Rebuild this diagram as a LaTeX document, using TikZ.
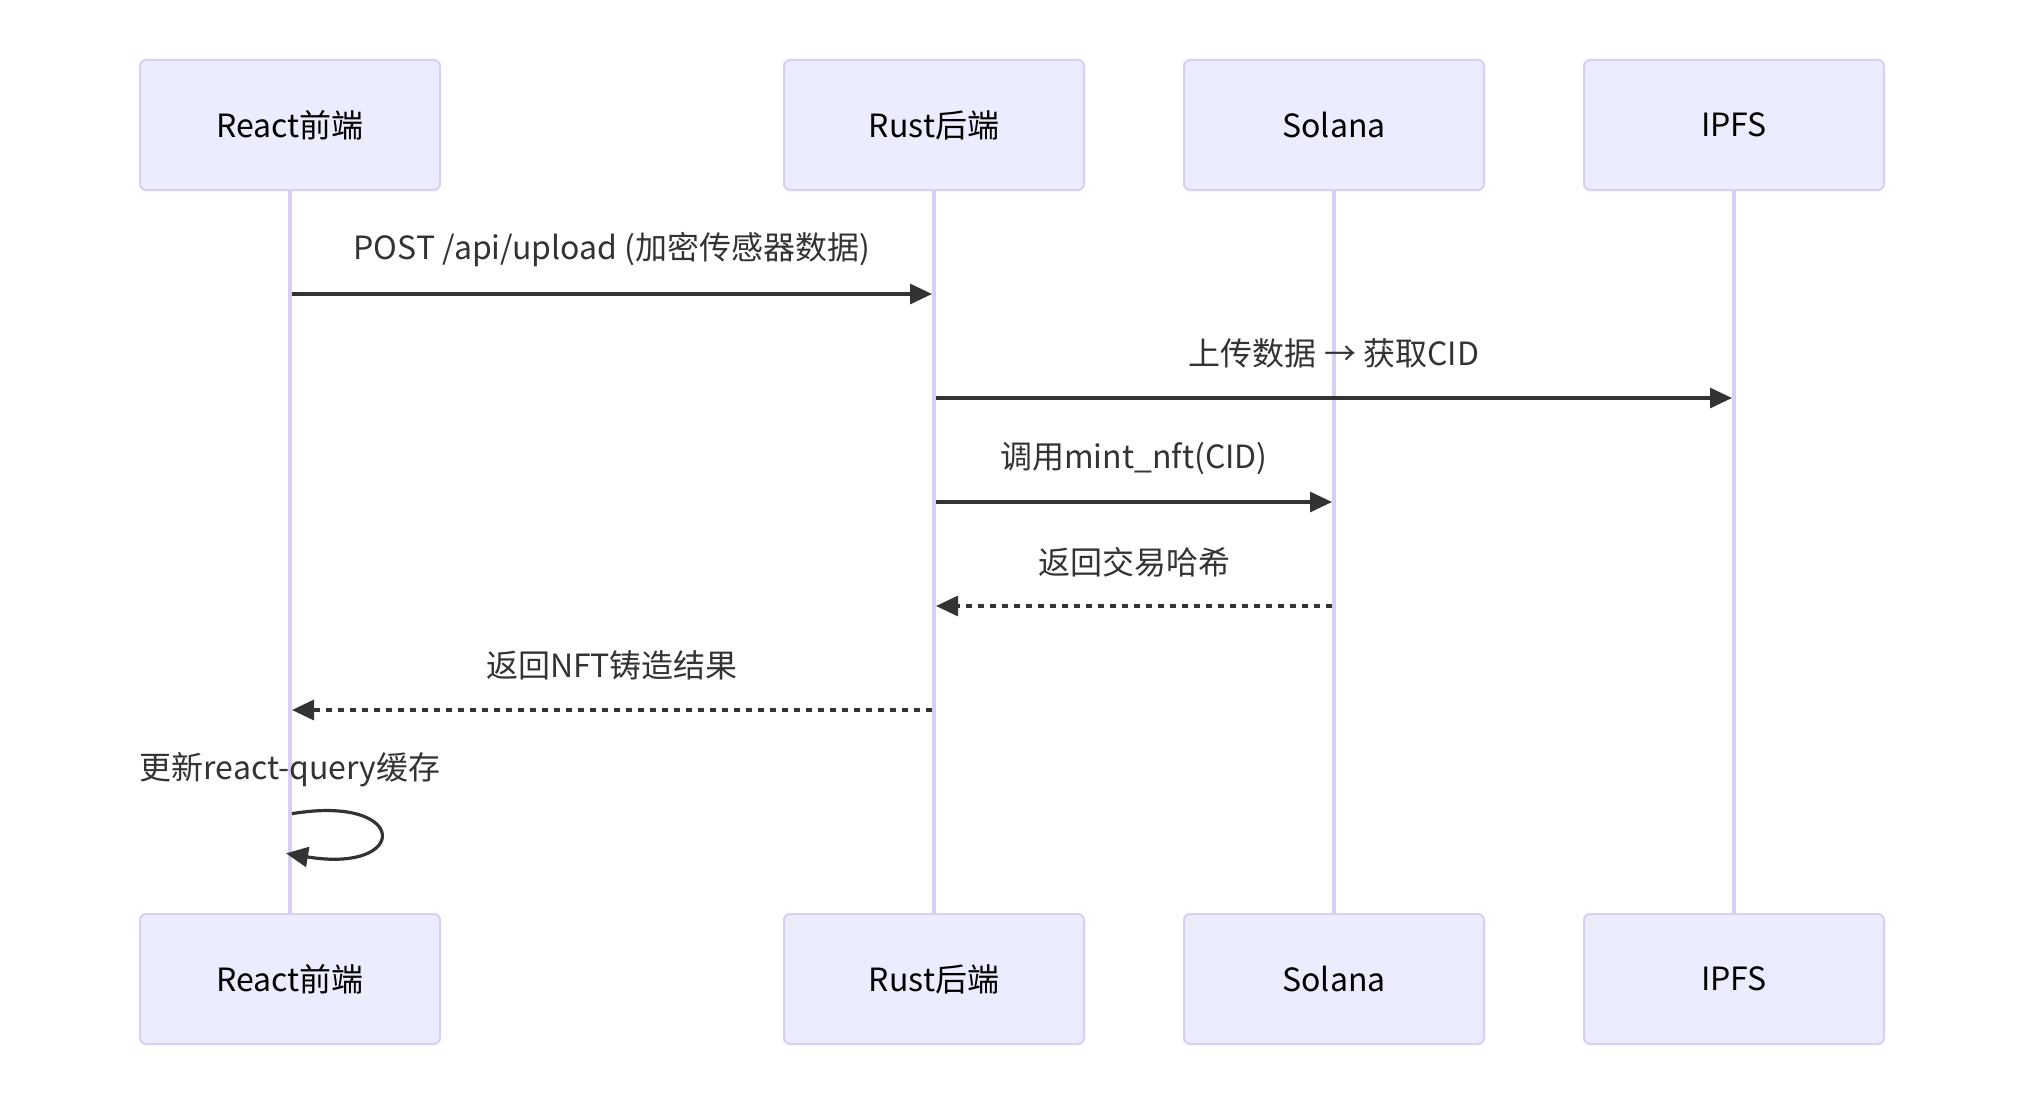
\documentclass[tikz,border=0pt]{standalone}
\usepackage{fontspec}
\setmainfont{Noto Sans CJK SC}
\usetikzlibrary{arrows.meta,backgrounds}
\definecolor{actfill}{HTML}{ECECFF}
\definecolor{actline}{HTML}{D9CEF3}
\definecolor{msg}{HTML}{333333}
\begin{document}
\begin{tikzpicture}[x=0.75pt,y=-0.75pt,
  actor/.style={draw=actline, line width=1.5pt, fill=actfill, rounded corners=4.5pt,
    minimum width=225pt, minimum height=97.5pt, inner sep=0pt,
    font=\fontsize{24}{28}\selectfont, text=black},
  life/.style={draw=actline, line width=3pt},
  msgline/.style={draw=msg, line width=2.4pt,
    -{Triangle[length=16.5pt,width=15pt]}, shorten <=1.5pt, shorten >=1.5pt},
  reply/.style={msgline, dash pattern=on 4.5pt off 4.5pt},
  msgtext/.style={font=\fontsize{24}{28}\selectfont, text=msg, inner sep=0pt}]
\useasboundingbox (0,0) rectangle (2024,1106);
% actors top
\node[actor] (rt) at (290,125) {React前端};
\node[actor] (st) at (934,125) {Rust后端};
\node[actor] (sot) at (1334,125) {Solana};
\node[actor] (it) at (1734,125) {IPFS};
% actors bottom
\node[actor] (rb) at (290,979) {React前端};
\node[actor] (sb) at (934,979) {Rust后端};
\node[actor] (sob) at (1334,979) {Solana};
\node[actor] (ib) at (1734,979) {IPFS};
% lifelines
\begin{scope}[on background layer]
\draw[life] (rt.south) -- (rb.north);
\draw[life] (st.south) -- (sb.north);
\draw[life] (sot.south) -- (sob.north);
\draw[life] (it.south) -- (ib.north);
\end{scope}
% message rows
\coordinate (y1) at (0,294);
\coordinate (y2) at (0,398);
\coordinate (y3) at (0,502);
\coordinate (y4) at (0,606);
\coordinate (y5) at (0,710);
\coordinate (y6) at (0,814);
\coordinate (y7) at (0,854);
% messages
\node[msgtext] (t1) at (612,250) {POST /api/upload (加密传感器数据)};
\draw[msgline] (rt |- y1) -- (st |- y1);
\node[msgtext] (t2) at (1334,353) {上传数据 → 获取CID};
\draw[msgline] (st |- y2) -- (it |- y2);
\node[msgtext] (t3) at (1134,459) {调用mint\_nft(CID)};
\draw[msgline] (st |- y3) -- (sot |- y3);
\node[msgtext] (t4) at (1134,562) {返回交易哈希};
\draw[reply] (sot |- y4) -- (st |- y4);
\node[msgtext] (t5) at (612,665) {返回NFT铸造结果};
\draw[reply] (st |- y5) -- (rt |- y5);
\node[msgtext] (t6) at (290,770) {更新react-query缓存};
\draw[msgline, shorten >=-3pt] (rt |- y6) .. controls +(120,-20) and +(120,20) .. (rt |- y7);
\end{tikzpicture}
\end{document}
